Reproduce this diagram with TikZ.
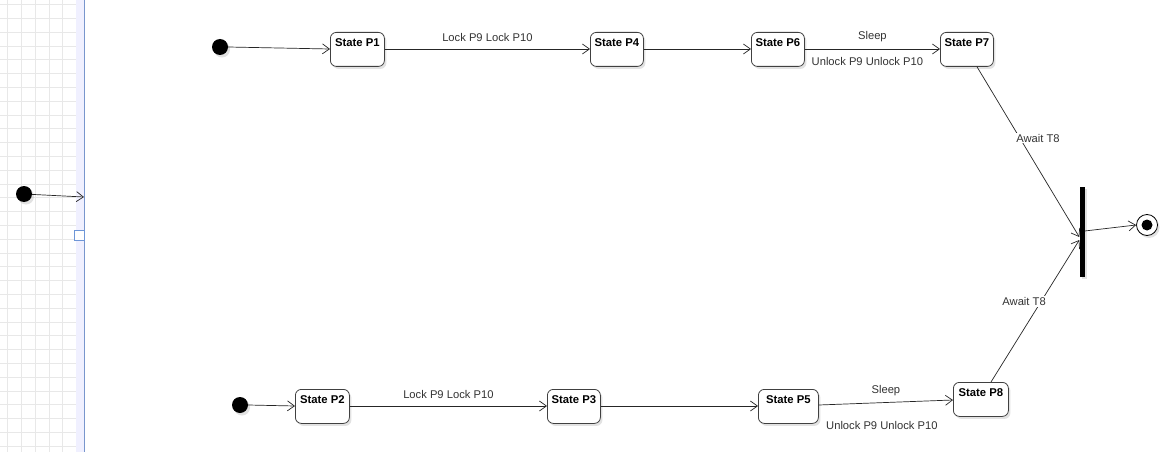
\documentclass[tikz,border=0pt]{standalone}
\usepackage{fontspec}
\setmainfont{Liberation Sans}
\usetikzlibrary{arrows.meta,shadows}
\tikzset{
  stbox/.style={draw=black!75, line width=0.8pt, rounded corners=6pt, fill=white,
    anchor=north west, inner sep=0pt, minimum height=34pt,
    drop shadow={shadow xshift=2pt, shadow yshift=-2.5pt, fill=black!25, opacity=.45}},
  sttext/.style={anchor=north, yshift=-6.5pt, inner sep=0pt, font=\bfseries\fontsize{11.3}{13}\selectfont},
  initdot/.style={circle, fill=black, minimum size=16pt, inner sep=0pt,
    drop shadow={shadow xshift=2pt, shadow yshift=-2.5pt, fill=black!25, opacity=.45}},
  tr/.style={draw=black!85, line width=0.7pt, -{Straight Barb[length=7pt,width=10pt]}},
  lbl/.style={font=\fontsize{11.2}{13}\selectfont, text=black!80, inner sep=1pt},
  lblw/.style={lbl, fill=white},
}
\begin{document}
\begin{tikzpicture}[x=1pt,y=-1pt]
\useasboundingbox (0,0) rectangle (1162,452);
% grid area on the left
\fill[white] (0,0) rectangle (1162,452);
\begin{scope}
\clip (0,0) rectangle (76,452);
\foreach \i in {0,...,6} \draw[black!9, line width=0.6pt] (7.5+13.8*\i,0) -- (7.5+13.8*\i,452);
\foreach \j in {0,...,33} \draw[black!9, line width=0.6pt] (0,4.5+13.8*\j) -- (76,4.5+13.8*\j);
\end{scope}
\fill[blue!6] (76,0) rectangle (84,452);
\draw[color={rgb,255:red,120;green,150;blue,205}, line width=1.6pt] (84.5,0) coordinate (lanetop) -- (84.5,452) coordinate (lanebot);
\node[draw={rgb,255:red,110;green,150;blue,215}, fill=white, line width=0.8pt, minimum width=10pt, minimum height=10pt, inner sep=0pt] (handle) at (79,235) {};
\coordinate (laneIn) at (84,197);
\node[initdot] (i0) at (24,194) {};
\draw[tr] (i0) -- (laneIn);

% top row
\node[initdot] (i1) at (220,47) {};
\node[stbox, minimum width=54pt, label={[sttext]north:State P1}] (p1) at (330,32) {};
\node[stbox, minimum width=53pt, label={[sttext]north:State P4}] (p4) at (590,32) {};
\node[stbox, minimum width=53pt, label={[sttext]north:State P6}] (p6) at (751,32) {};
\node[stbox, minimum width=53pt, label={[sttext]north:State P7}] (p7) at (940,32) {};

% bottom row
\node[initdot] (i2) at (240,405) {};
\node[stbox, minimum width=54pt, label={[sttext]north:State P2}] (p2) at (295,389) {};
\node[stbox, minimum width=53pt, label={[sttext]north:State P3}] (p3) at (547,389) {};
\node[stbox, minimum width=60pt, label={[sttext]north:State P5}] (p5) at (758,389) {};
\node[stbox, minimum width=55pt, label={[sttext]north:State P8}] (p8) at (953,382) {};

% join bar and final state
\node[fill=black, minimum width=5pt, minimum height=90pt, inner sep=0pt,
  drop shadow={shadow xshift=2pt, shadow yshift=-2.5pt, fill=black!25, opacity=.45}] (bar) at (1082,231.5) {};
\node[circle, draw=black, line width=0.8pt, fill=white, minimum size=21pt, inner sep=0pt,
  drop shadow={shadow xshift=2pt, shadow yshift=-2.5pt, fill=black!25, opacity=.45}] (fin) at (1147,225) {};
\node[circle, fill=black, minimum size=11pt, inner sep=0pt] (finin) at (fin.center) {};

% transitions top
\draw[tr] (i1.east) -- (p1.west |- 0,49);
\draw[tr] (p1.east |- 0,49) -- node[lbl, above=6.5pt] {Lock P9 Lock P10} (p4.west |- 0,49);
\draw[tr] (p4.east |- 0,49) -- (p6.west |- 0,49);
\draw[tr] (p6.east |- 0,49) -- node[lbl, above=6pt] {Sleep} node[lbl, below=7.5pt, xshift=-5pt] {Unlock P9 Unlock P10} (p7.west |- 0,49);
\draw[tr] (p7.south -| 977,0) -- node[lblw, pos=0.42, xshift=18pt] {Await T8} (bar.west |- 0,237);

% transitions bottom
\draw[tr] (i2.east) -- (p2.west |- 0,406);
\draw[tr] (p2.east |- 0,406) -- node[lbl, above=6.5pt] {Lock P9 Lock P10} (p3.west |- 0,406);
\draw[tr] (p3.east |- 0,406) -- (p5.west |- 0,406);
\draw[tr] (p5.east |- 0,405) -- node[lbl, above=5pt] {Sleep} node[lbl, below=17.5pt, xshift=-4pt] {Unlock P9 Unlock P10} (p8.west |- 0,400);
\draw[tr] (p8.north -| 991,0) -- node[lblw, pos=0.567, xshift=-17pt] {Await T8} (bar.west |- 0,240);
\draw[tr] (bar.east |- 0,231) -- (fin.west);
\end{tikzpicture}
\end{document}
